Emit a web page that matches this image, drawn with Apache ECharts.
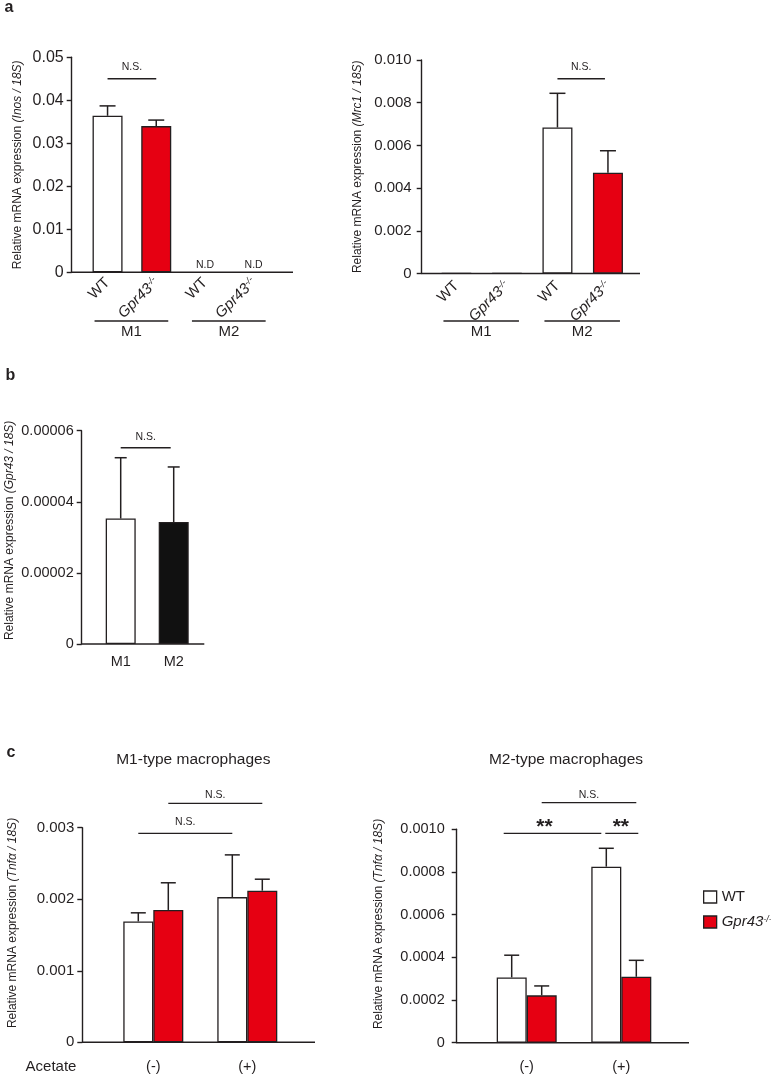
<!DOCTYPE html>
<html><head><meta charset="utf-8">
<script src="https://cdn.jsdelivr.net/npm/echarts@6/dist/echarts.min.js"></script>
<style>html,body{margin:0;padding:0;background:#fff}#c{width:771px;height:1076px}</style>
</head><body><div id="c"></div>
<script>
// ---------------- data ----------------
const aCategories = ['WT', 'Gpr43-/-', 'WT', 'Gpr43-/-'];
const aGenotype = ['wt', 'ko', 'wt', 'ko'];
const aGroups = ['M1', 'M2'];
const inosMean = [0.0364, 0.0340, null, null];
const inosSem = [0.0023, 0.0014, null, null];
const inosNote = ['', '', 'N.D', 'N.D'];
const inosTicks = ['0', '0.01', '0.02', '0.03', '0.04', '0.05'];

const mrc1Mean = [0.00002, 0.00002, 0.00684, 0.00472];
const mrc1Sem = [null, null, 0.0016, 0.00103];
const mrc1Ticks = ['0', '0.002', '0.004', '0.006', '0.008', '0.010'];

const bCategories = ['M1', 'M2'];
const bColorKey = ['wt', 'black'];
const gpr43Mean = [0.0000353, 0.0000343];
const gpr43Sem = [0.0000171, 0.0000155];
const gpr43Ticks = ['0', '0.00002', '0.00004', '0.00006'];

const cCategories = ['(-)', '(+)'];
const seriesNames = ['WT', 'Gpr43'];
const m1WTMean = [0.00169, 0.00203];
const m1WTSem = [0.00012, 0.00059];
const m1KOMean = [0.00185, 0.00212];
const m1KOSem = [0.00038, 0.00016];
const m1Ticks = ['0', '0.001', '0.002', '0.003'];

const m2WTMean = [0.000306, 0.000825];
const m2WTSem = [0.000104, 0.000086];
const m2KOMean = [0.000222, 0.000309];
const m2KOSem = [0.000044, 0.000077];
const m2Ticks = ['0', '0.0002', '0.0004', '0.0006', '0.0008', '0.0010'];

// ---------------- style / layout ----------------
const FONT = '"Liberation Sans", Arial, Helvetica, sans-serif';
const INK = '#231f20';
const RED = '#e60012';
const COLORS = { wt: '#ffffff', ko: RED, black: '#111111' };

const P = [
  { left: 83.2, top: 57.3, width: 194.8, height: 215, axisX: 71.7, lineEnd: 293 },
  { left: 431.2, top: 60, width: 202, height: 213.5, axisX: 421.7, lineEnd: 640 },
  { left: 94.2, top: 430.7, width: 106, height: 213.3, axisX: 81.7, lineEnd: 204.3 },
  { left: 106.3, top: 827.7, width: 188, height: 214.6, axisX: 82.3, lineEnd: 315 },
  { left: 479.4, top: 829.3, width: 189.2, height: 213.4, axisX: 456.7, lineEnd: 689 }
];

const richGenotype = {
  n: { fontSize: 15, fontFamily: FONT, color: INK },
  i: { fontSize: 15, fontFamily: FONT, fontStyle: 'italic', color: INK },
  s: { fontSize: 9, fontFamily: FONT, fontStyle: 'italic', color: INK, verticalAlign: 'top', lineHeight: 9 }
};
const genoFmt = v => v === 'WT' ? '{n|WT}' : '{i|Gpr43}{s|-/-}';

function yAxis(i, max, interval, ticks, italicPart, gap, fs, margin, shiftUp) {
  const g = P[i];
  return {
    gridIndex: i, type: 'value', min: 0, max: max, interval: interval,
    offset: g.left - g.axisX,
    axisLine: { show: true, lineStyle: { color: INK, width: 1.4 } },
    axisTick: { show: true, length: 5, lineStyle: { color: INK, width: 1.4 } },
    splitLine: { show: false },
    axisLabel: { color: INK, fontSize: fs, fontFamily: FONT, margin: margin,
      formatter: v => ticks[Math.round(v / interval)] },
    name: 'Relative mRNA expression {i|' + italicPart + '}',
    nameLocation: 'middle', nameGap: gap, nameRotate: 90,
    nameTextStyle: { color: INK, fontSize: 12, fontFamily: FONT, padding: [0, 0, 0, shiftUp * 2],
      rich: { i: { fontStyle: 'italic', fontSize: 12, fontFamily: FONT, color: INK } } }
  };
}

function xAxis(i, data, labelOpts) {
  return Object.assign({
    gridIndex: i, type: 'category', data: data,
    axisLine: { show: false }, axisTick: { show: false }
  }, { axisLabel: Object.assign({ interval: 0, color: INK, fontFamily: FONT }, labelOpts) });
}

const barBorder = { borderColor: INK, borderWidth: 1.3 };

function barSeries(i, name, values, colorKeys, width) {
  return {
    type: 'bar', name: name, xAxisIndex: i, yAxisIndex: i, barWidth: width,
    data: values.map((v, k) => v == null ? '-' : { value: v, itemStyle: Object.assign({ color: COLORS[colorKeys[k]] }, barBorder) }),
    z: 2
  };
}

function errSeries(i, means, sems, dx, cap) {
  const data = [];
  means.forEach((m, k) => { if (m != null && sems[k] != null) data.push([k, m, m + sems[k]]); });
  return {
    type: 'custom', xAxisIndex: i, yAxisIndex: i, z: 3, silent: true,
    encode: { x: 0, y: [1, 2] },
    data: data,
    renderItem: (params, api) => {
      const b = api.coord([api.value(0), api.value(1)]);
      const t = api.coord([api.value(0), api.value(2)]);
      const x = b[0] + dx;
      return { type: 'group', children: [
        { type: 'line', shape: { x1: x, y1: b[1], x2: x, y2: t[1] }, style: { stroke: INK, lineWidth: 1.5 } },
        { type: 'line', shape: { x1: x - cap, y1: t[1], x2: x + cap, y2: t[1] }, style: { stroke: INK, lineWidth: 1.5 } }
      ] };
    }
  };
}

function pairSeries(i, wtMean, wtSem, koMean, koSem) {
  return [
    { type: 'bar', name: seriesNames[0], xAxisIndex: i, yAxisIndex: i, barWidth: 30, barGap: '0%',
      itemStyle: Object.assign({ color: COLORS.wt }, barBorder), data: wtMean, z: 2 },
    { type: 'bar', name: seriesNames[1], xAxisIndex: i, yAxisIndex: i, barWidth: 30, barGap: '0%',
      itemStyle: Object.assign({ color: COLORS.ko }, barBorder), data: koMean, z: 2 },
    errSeries(i, wtMean, wtSem, -15, 7.5),
    errSeries(i, koMean, koSem, 15, 7.5)
  ];
}

const option = {
  animation: false,
  backgroundColor: '#ffffff',
  grid: P.map(g => ({ left: g.left, top: g.top, width: g.width, height: g.height, containLabel: false })),
  xAxis: [
    xAxis(0, aCategories, { rotate: 45, margin: 8, formatter: genoFmt, rich: richGenotype }),
    xAxis(1, aCategories, { rotate: 45, margin: 10, formatter: genoFmt, rich: richGenotype }),
    xAxis(2, bCategories, { fontSize: 14.5, margin: 10 }),
    xAxis(3, cCategories, { fontSize: 14.5, margin: 17 }),
    xAxis(4, cCategories, { fontSize: 14.5, margin: 17 })
  ],
  yAxis: [
    yAxis(0, 0.05, 0.01, inosTicks, '(Inos / 18S)', 48, 16, 8, 0),
    yAxis(1, 0.01, 0.002, mrc1Ticks, '(Mrc1 / 18S)', 58, 15, 10, 0),
    yAxis(2, 0.00006, 0.00002, gpr43Ticks, '(Gpr43 / 18S)', 66, 14.5, 8, 7),
    yAxis(3, 0.003, 0.001, m1Ticks, '(Tnf\u03b1 / 18S)', 64, 15, 8, 12),
    yAxis(4, 0.001, 0.0002, m2Ticks, '(Tnf\u03b1 / 18S)', 72, 14.5, 12, 12)
  ],
  legend: {
    show: true, orient: 'vertical', left: 698, top: 884.5, itemWidth: 13, itemHeight: 12,
    itemGap: 10, selectedMode: false,
    data: [{ name: seriesNames[0], icon: 'rect' }, { name: seriesNames[1], icon: 'rect' }],
    itemStyle: { borderColor: INK, borderWidth: 1.3 },
    formatter: n => n === 'WT' ? '{n|WT}' : '{i|Gpr43}{s|-/-}',
    textStyle: { color: INK, fontFamily: FONT, fontSize: 15,
      rich: {
        n: { fontSize: 15, fontFamily: FONT, color: INK },
        i: { fontSize: 15, fontFamily: FONT, fontStyle: 'italic', color: INK },
        s: { fontSize: 9, fontFamily: FONT, fontStyle: 'italic', color: INK, verticalAlign: 'top', lineHeight: 9 }
      } }
  },
  series: [
    barSeries(0, 'Inos', inosMean, aGenotype, 30),
    errSeries(0, inosMean, inosSem, 0, 8),
    barSeries(1, 'Mrc1', mrc1Mean, aGenotype, 30),
    errSeries(1, mrc1Mean, mrc1Sem, 0, 8),
    barSeries(2, 'Gpr43 expr', gpr43Mean, bColorKey, 30),
    errSeries(2, gpr43Mean, gpr43Sem, 0, 6),
    ...pairSeries(3, m1WTMean, m1WTSem, m1KOMean, m1KOSem),
    ...pairSeries(4, m2WTMean, m2WTSem, m2KOMean, m2KOSem)
  ]
};

const chart = echarts.init(document.getElementById('c'), null, { renderer: 'canvas' });
chart.setOption(option);

// ---------------- annotations ----------------
const X = (i, k) => chart.convertToPixel({ xAxisIndex: i }, k);
const Y = (i, v) => chart.convertToPixel({ yAxisIndex: i }, v);
const G = [];
const line = (x1, y1, x2, y2, w) => G.push({ type: 'line', silent: true, shape: { x1, y1, x2, y2 }, style: { stroke: INK, lineWidth: w || 1.4 } });
const text = (x, y, t, fs, extra) => G.push({ type: 'text', silent: true, x: x, y: y,
  style: Object.assign({ text: t, fill: INK, fontSize: fs, fontFamily: FONT, align: 'center', verticalAlign: 'middle' }, extra || {}) });

// baselines (x axis lines reaching back to the y axis)
P.forEach(g => line(g.axisX, g.top + g.height, g.lineEnd, g.top + g.height, 1.4));

// panel letters
text(9, 8, 'a', 16, { fontWeight: 'bold' });
text(10.5, 376, 'b', 16, { fontWeight: 'bold' });
text(11, 753, 'c', 16, { fontWeight: 'bold' });

// significance helper
function ns(x1, x2, y, label, fs, dy, dxText) {
  line(x1, y, x2, y, 1.4);
  text((x1 + x2) / 2 + (dxText || 0), y - dy, label, fs, label === '**' ? { fontWeight: 'bold' } : {});
}

// panel a
ns(X(0, 0), X(0, 1), Y(0, 0.045), 'N.S.', 10.5, 11.5);
inosNote.forEach((t, k) => { if (t) text(X(0, k), P[0].top + P[0].height - 7, t, 10.5); });
[0, 1].forEach(i => {
  aGroups.forEach((gname, gi) => {
    const x1 = X(i, gi * 2) - 13, x2 = X(i, gi * 2 + 1) + 12;
    line(x1, 321, x2, 321, 1.4);
    text((x1 + x2) / 2, 332, gname, 15);
  });
});
ns(X(1, 2), X(1, 3) - 3, Y(1, 0.00912), 'N.S.', 10.5, 11.5);

// panel b
ns(X(2, 0), X(2, 1) - 3, Y(2, 0.0000552), 'N.S.', 10.5, 11);

// panel c
text(193.3, 759.3, 'M1-type macrophages', 15.5);
text(566, 759.3, 'M2-type macrophages', 15.5);
text(51, 1066.7, 'Acetate', 15);
ns(X(3, 0) - 15, X(3, 1) - 15, Y(3, 0.00292), 'N.S.', 10.5, 11);
ns(X(3, 0) + 15, X(3, 1) + 15, Y(3, 0.00334), 'N.S.', 10.5, 8);
ns(X(4, 0) + 15, X(4, 1) + 15, Y(4, 0.001125), 'N.S.', 10.5, 7.5);
ns(X(4, 0) - 23, X(4, 1) - 20, Y(4, 0.000981), '**', 21, 6, -8);
ns(X(4, 1) - 16, X(4, 1) + 17, Y(4, 0.000981), '**', 21, 6, -1);

chart.setOption({ graphic: G });
</script>
</body></html>
